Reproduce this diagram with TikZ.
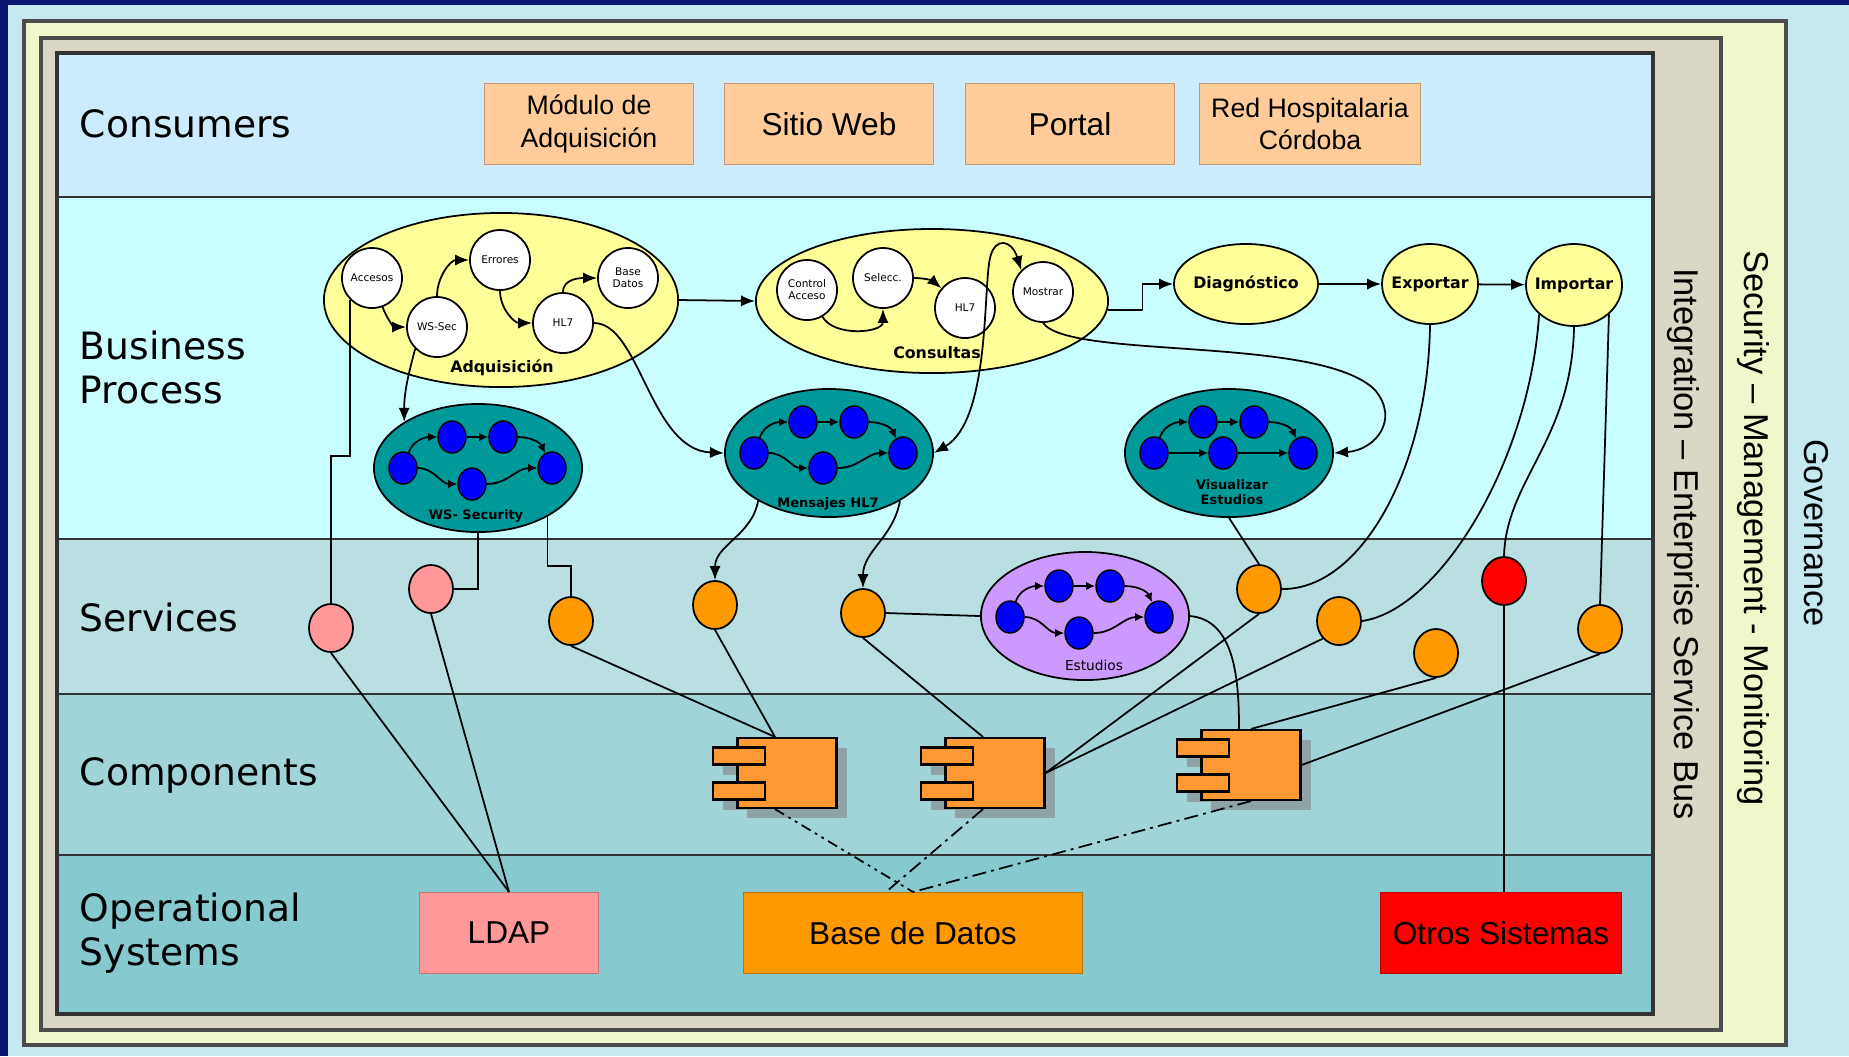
\documentclass[tikz,border=0pt]{standalone}
\usepackage{fontspec}
\setmainfont{DejaVu Sans}
\newfontfamily\arialfont{Liberation Sans}
\usetikzlibrary{shapes.geometric,arrows.meta,shadows}

\definecolor{navybg}{HTML}{0A1670}
\definecolor{govblue}{HTML}{C6E9F1}
\definecolor{secyel}{HTML}{EFF7CB}
\definecolor{esbtan}{HTML}{DBD7C6}
\definecolor{laycons}{HTML}{CCEBFC}
\definecolor{laybp}{HTML}{C8FEFE}
\definecolor{laysvc}{HTML}{B9DFE3}
\definecolor{laycomp}{HTML}{A1D4D8}
\definecolor{layops}{HTML}{86C9CF}
\definecolor{peach}{HTML}{FFCC99}
\definecolor{bpyellow}{HTML}{FFFF99}
\definecolor{flowteal}{HTML}{009999}
\definecolor{flowpurple}{HTML}{CC99FF}
\definecolor{svcpink}{HTML}{FF9999}
\definecolor{svcorange}{HTML}{FF9900}
\definecolor{comporange}{HTML}{FF9933}
\definecolor{shadowgray}{HTML}{8DA3A6}

\tikzset{>={Latex[length=4pt,width=3.2pt]},
  layerlbl/.style={anchor=west,align=left,inner sep=0pt,
    font=\fontsize{10.7}{12.5}\selectfont},
  sidelbl/.style={rotate=-90,font=\arialfont\fontsize{9.8}{11}\selectfont},
  consbox/.style={rectangle,fill=peach,draw=peach!75!black,line width=0.3pt,
    minimum width=2.08cm,minimum height=0.81cm,align=center,
    font=\arialfont\fontsize{#1}{9.2}\selectfont},
  consbox/.default=9,
  opsbox/.style={rectangle,fill=#1,draw=#1!75!black,line width=0.3pt,
    minimum height=0.81cm,font=\arialfont\fontsize{9}{10}\selectfont},
  bpell/.style={ellipse,draw,fill=bpyellow,line width=0.5pt,inner sep=0pt},
  bplbl/.style={font=\bfseries\fontsize{4.5}{5}\selectfont},
  stepc/.style={circle,draw,fill=white,minimum size=0.6cm,inner sep=0pt,
    align=center,font=\fontsize{3}{3.4}\selectfont},
  flowell/.style={ellipse,draw,fill=#1,minimum width=2.08cm,minimum height=1.28cm,
    line width=0.5pt},
  flowdot/.style={ellipse,draw,fill=blue,minimum width=0.28cm,minimum height=0.32cm,
    inner sep=0pt,line width=0.4pt},
  flowlbl/.style={align=center,font=\bfseries\fontsize{3.7}{4.2}\selectfont},
  svcdot/.style={ellipse,draw,fill=#1,minimum width=0.44cm,minimum height=0.48cm,
    inner sep=0pt,line width=0.5pt},
  compbody/.style={rectangle,draw,fill=comporange,line width=0.6pt,
    minimum width=0.99cm,minimum height=0.70cm,inner sep=0pt,
    drop shadow={shadow xshift=0.1cm,shadow yshift=-0.1cm,fill=shadowgray,opacity=1}},
  comptab/.style={rectangle,draw,fill=comporange,line width=0.6pt,
    minimum width=0.52cm,minimum height=0.17cm,inner sep=0pt},
  tabshadow/.style={rectangle,fill=shadowgray,minimum width=0.52cm,
    minimum height=0.17cm,inner sep=0pt},
  darr/.style={-{Latex[length=2.6pt,width=2.4pt]}},
  dashdot/.style={dash pattern=on 4pt off 1.5pt on 0.8pt off 1.5pt},
  dashdotdot/.style={dash pattern=on 3pt off 1.4pt on 0.8pt off 1.4pt on 0.8pt off 1.4pt}
}

\begin{document}
\begin{tikzpicture}[x=0.01cm,y=-0.01cm,line width=0.5pt]
\useasboundingbox (0,0) rectangle (1849,1056);

% frames
\fill[navybg] (0,0) rectangle (1849,1056);
\fill[govblue] (8,5) rectangle (1849,1056);
\draw[fill=secyel,draw=black!70,line width=0.9pt] (24,21) rectangle (1786,1045);
\draw[fill=esbtan,draw=black!70,line width=0.9pt] (41,38) rectangle (1721,1030);

% layers
\fill[laycons] (57,53) rectangle (1653,197);
\fill[laybp] (57,197) rectangle (1653,539);
\fill[laysvc] (57,539) rectangle (1653,694);
\fill[laycomp] (57,694) rectangle (1653,855);
\fill[layops] (57,855) rectangle (1653,1014);
\draw[black!80] (57,197) -- (1653,197) (57,539) -- (1653,539)
  (57,694) -- (1653,694) (57,855) -- (1653,855);
\draw[black!80,line width=0.9pt] (57,53) rectangle (1653,1014);

\node[sidelbl] (esb) at (1683,544) {Integration – Enterprise Service Bus};
\node[sidelbl] (smm) at (1753,528) {Security – Management - Monitoring};
\node[sidelbl] (gov) at (1816,533) {Governance};

\node[layerlbl] (lcons) at (79,124) {Consumers};
\node[layerlbl] (lbp) at (79,367) {Business\\Process};
\node[layerlbl] (lsvc) at (79,617) {Services};
\node[layerlbl] (lcomp) at (79,775) {Components};
\node[layerlbl] (lops) at (79,933) {Operational\\Systems};

% consumers
\node[consbox=7.6] (mod) at (589,124) {Módulo de\\Adquisición};
\node[consbox] (web) at (829,124) {Sitio Web};
\node[consbox] (portal) at (1070,124) {Portal};
\node[consbox=7.6] (rhc) at (1310,124) {Red Hospitalaria\\Córdoba};

% business process
\node[bpell,minimum width=3.54cm,minimum height=1.74cm] (adq) at (501,300) {};
\node[bplbl] (adqlbl) at (502,368) {Adquisición};
\node[stepc] (acc) at (372,278) {Accesos};
\node[stepc] (wssec) at (437,327) {WS-Sec};
\node[stepc] (err) at (500,260) {Errores};
\node[stepc] (ahl7) at (563,323) {HL7};
\node[stepc] (abd) at (628,278) {Base\\Datos};

\node[bpell,minimum width=3.52cm,minimum height=1.44cm] (cons) at (932,301) {};
\node[bplbl] (conslbl) at (937,353) {Consultas};
\node[stepc] (ctl) at (807,290) {Control\\Acceso};
\node[stepc] (sel) at (883,278) {Selecc.};
\node[stepc] (chl7) at (965,308) {HL7};
\node[stepc] (mos) at (1043,292) {Mostrar};

\node[bpell,minimum width=1.44cm,minimum height=0.8cm,
  label={[bplbl]center:Diagnóstico}] (diag) at (1246,284) {};
\node[bpell,minimum width=0.96cm,minimum height=0.8cm,
  label={[bplbl]center:Exportar}] (exp) at (1430,284) {};
\node[bpell,minimum width=0.96cm,minimum height=0.82cm,
  label={[bplbl]center:Importar}] (imp) at (1574,285) {};

\node[flowell=flowteal] (ws) at (478,468) {};
\node[flowell=flowteal] (mh) at (829,453) {};
\node[flowell=flowteal] (ve) at (1229,453) {};
\node[flowell=flowpurple] (es) at (1085,616) {};
\node[flowlbl] (wslbl) at (476,516) {WS- Security};
\node[flowlbl] (mhlbl) at (828,504) {Mensajes HL7};
\node[flowlbl] (velbl) at (1232,492) {Visualizar\\Estudios};
\node[flowlbl,font=\fontsize{3.9}{4.4}\selectfont] (eslbl) at (1094,665) {Estudios};

\foreach \g/\cx/\cy/\dy in {ws/478/468/16, mh/829/453/15, ve/1229/453/0, es/1085/617/16}{
  \node[flowdot] (\g1) at (\cx-75,\cy) {};
  \node[flowdot] (\g2) at (\cx-26,\cy-31) {};
  \node[flowdot] (\g3) at (\cx+25,\cy-31) {};
  \node[flowdot] (\g4) at (\cx-6,\cy+\dy) {};
  \node[flowdot] (\g5) at (\cx+74,\cy) {};
  \draw[darr] (\g1) to[out=70,in=180] (\g2);
  \draw[darr] (\g2) -- (\g3);
  \draw[darr] (\g3) to[out=0,in=115] (\g5);
  \draw[darr] (\g1) to[out=0,in=180] (\g4);
  \draw[darr] (\g4) to[out=0,in=180] (\g5);
}

% services
\node[svcdot=svcpink] (pk1) at (331,628) {};
\node[svcdot=svcpink] (pk2) at (431,589) {};
\node[svcdot=svcorange] (or1) at (571,621) {};
\node[svcdot=svcorange] (or2) at (715,605) {};
\node[svcdot=svcorange] (or3) at (863,613) {};
\node[svcdot=svcorange] (or4) at (1259,589) {};
\node[svcdot=svcorange] (or5) at (1339,621) {};
\node[svcdot=red] (rd) at (1504,581) {};
\node[svcdot=svcorange] (or6) at (1436,653) {};
\node[svcdot=svcorange] (or7) at (1600,629) {};

% components
\foreach \c/\cx/\cy in {c1/787/773, c2/995/773, c3/1251/765}{
  \node[tabshadow] (\c sa) at (\cx-38,\cy-7) {};
  \node[tabshadow] (\c sb) at (\cx-38,\cy+28) {};
  \node[compbody] (\c) at (\cx,\cy) {};
  \node[comptab] (\c a) at (\cx-48,\cy-17) {};
  \node[comptab] (\c b) at (\cx-48,\cy+18) {};
}

% operational systems
\node[opsbox=svcpink,minimum width=1.78cm] (ldap) at (509,933) {LDAP};
\node[opsbox=svcorange,minimum width=3.38cm] (db) at (913,933) {Base de Datos};
\node[opsbox=red,minimum width=2.41cm] (otros) at (1501,933) {Otros Sistemas};

% process arrows
\draw[->] (acc.-70) to[out=-70,in=180] (wssec.west);
\draw[->] (wssec.north) to[out=90,in=180] (err.west);
\draw[->] (err.south) to[out=-90,in=180] (ahl7.west);
\draw[->] (ahl7.north) to[out=90,in=180] (abd.west);
\draw[->] (ctl.-60) to[out=-60,in=-90] (sel.south);
\draw[->] (sel.east) to[out=0,in=140] (chl7.140);
\draw[->] (adq.east) -- (cons.west);
\draw[->] (cons.-3) -- ++(35,0) |- (diag.west);
\draw[->] (diag) -- (exp);
\draw[->] (exp) -- (imp);
\draw[<->] (mh.east) .. controls (990,420) and (983,290) .. (990,258)
  .. controls (995,236) and (1012,240) .. (mos.north west);
\draw[->] (mos.south) .. controls (1070,360) and (1320,335) .. (1375,390)
  .. controls (1400,420) and (1375,450) .. (ve.east);
\draw[->] (wssec.south west) to[out=-105,in=90] (ws.148);
\draw[->] (ahl7.east) .. controls (640,323) and (650,450) .. (mh.west);

% business process to services
\draw (acc.south west) -- (acc.south west |- 0,456) -| (pk1.north);
\draw (pk2.east) -| (ws.south);
\draw (or1.north) -- (or1.north |- 0,566) -| (ws.-35);
\draw[->] (mh.214) to[out=-100,in=90] (or2.north);
\draw[->] (mh.-34) to[out=-100,in=90] (or3.north);
\draw (or3.east) -- (es.west);
\draw (ve.south) -- (or4.north);
\draw (exp.south) .. controls (1428,470) and (1360,590) .. (or4.east);
\draw (imp.-140) .. controls (1530,460) and (1440,610) .. (or5.east);
\draw (imp.south) .. controls (1572,440) and (1506,480) .. (rd.north);
\draw (imp.-40) -- (or7.north);

% services to components and systems
\draw (pk1.south) -- (ldap.north);
\draw (pk2.south) -- (ldap.north);
\draw (or1.south) -- ([xshift=-0.12cm]c1.north);
\draw (or2.south) -- ([xshift=-0.12cm]c1.north);
\draw (or3.south) -- ([xshift=-0.12cm]c2.north);
\draw (or4.south) -- (c2.east);
\draw (or5.south west) -- (c2.east);
\draw (es.east) .. controls (1235,620) and (1239,680) .. ([xshift=-0.12cm]c3.north);
\draw (or6.south) -- (c3.north);
\draw (or7.south) -- (c3.east);
\draw (rd.south) -- (rd.south |- otros.north);

% components to database
\draw[dashdotdot] ([xshift=-0.12cm]c1.south) -- (db.north);
\draw[dashdot] ([xshift=-0.12cm]c2.south) -- ([xshift=-0.27cm]db.north);
\draw[dashdot] (c3.south) -- (db.north);
\end{tikzpicture}
\end{document}
